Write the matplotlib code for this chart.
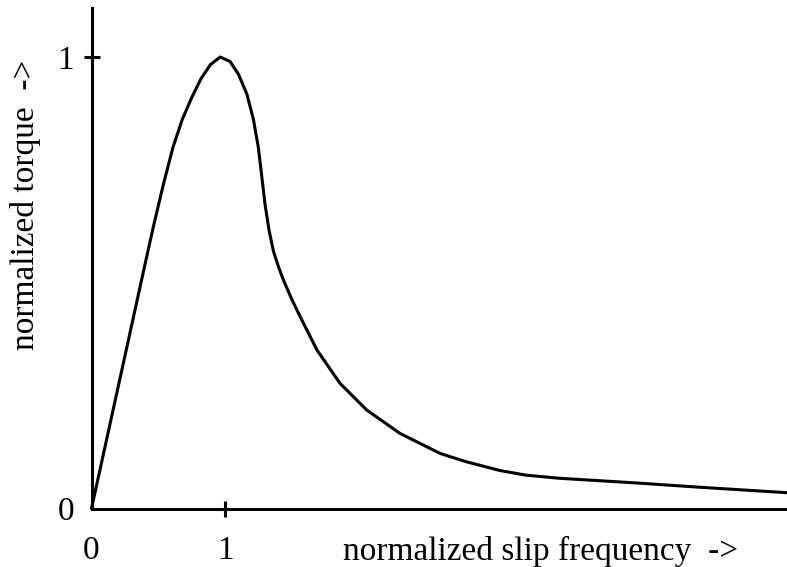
import matplotlib
matplotlib.use("Agg")
import matplotlib.pyplot as plt

# torque vs slip frequency
slip = [0.0, 0.2, 0.4, 0.46, 0.54, 0.61, 0.68, 0.75, 0.82, 0.89,
        0.963, 1.037, 1.100, 1.163, 1.212, 1.249, 1.275, 1.300, 1.330, 1.362,
        1.40, 1.437, 1.50, 1.562, 1.688, 1.861, 2.061, 2.311, 2.610, 2.80,
        3.060, 3.25, 3.50, 4.058, 4.558, 5.207]
torque = [0.0, 0.27, 0.54, 0.62, 0.72, 0.80, 0.862, 0.91, 0.952, 0.983,
          1.0, 0.990, 0.962, 0.918, 0.862, 0.800, 0.735, 0.672, 0.615, 0.570,
          0.535, 0.506, 0.463, 0.425, 0.351, 0.277, 0.218, 0.166, 0.122, 0.104,
          0.084, 0.074, 0.067, 0.057, 0.047, 0.035]

x_ticks = [0, 1]
x_ticklabels = ["0", "1"]
y_ticks = [0, 1]
y_ticklabels = ["0", "1"]

plt.rcParams['font.family'] = ['Liberation Serif', 'DejaVu Serif']

W, H = 787, 567
fig = plt.figure(figsize=(W / 100, H / 100), dpi=100)
x0, y0 = 91.5, 508.5
ax = fig.add_axes([x0 / W, (H - y0) / H, (W - x0) / W, (y0 - 8) / H])

ax.plot(slip, torque, color='black', lw=2.2, solid_joinstyle='round',
        solid_capstyle='round', clip_on=False)

ax.set_xlim(0, 5.207)
ax.set_ylim(0, (y0 - 8) / (y0 - 57))

for s in ['top', 'right']:
    ax.spines[s].set_visible(False)
for s in ['left', 'bottom']:
    ax.spines[s].set_linewidth(2.2)

ax.set_xticks(x_ticks)
ax.set_xticklabels(x_ticklabels)
ax.set_yticks(y_ticks)
ax.set_yticklabels(y_ticklabels)
ax.tick_params(direction='inout', length=11, width=2.2, labelsize=24)
ax.tick_params(axis='x', pad=14)
ax.tick_params(axis='y', pad=7)
ax.xaxis.get_major_ticks()[0].tick1line.set_visible(False)
ax.yaxis.get_major_ticks()[0].tick1line.set_visible(False)

fig.text(343 / W, 1 - 560 / H, "normalized slip frequency  ->", fontsize=24,
         ha='left', va='baseline')
fig.text(26 / W, 1 - 205 / H, "normalized torque  ->", fontsize=24,
         rotation=90, ha='center', va='center')

fig.savefig("out.png", dpi=100)
